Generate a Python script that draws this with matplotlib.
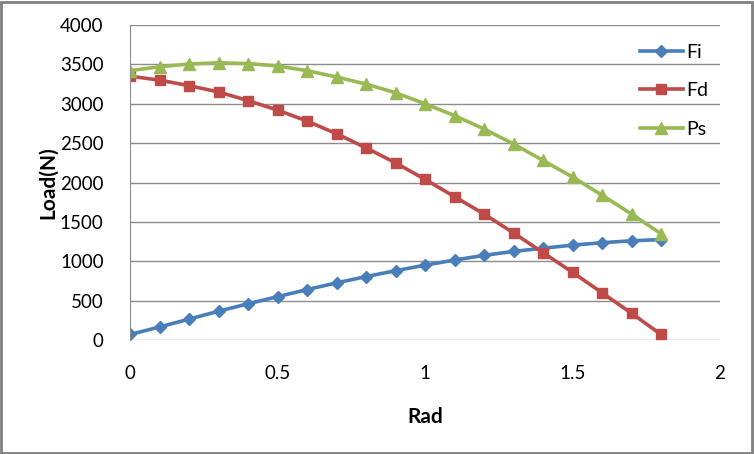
import matplotlib.pyplot as plt
from matplotlib.patches import Rectangle

rad = [0, 0.1, 0.2, 0.3, 0.4, 0.5, 0.6, 0.7, 0.8, 0.9,
       1.0, 1.1, 1.2, 1.3, 1.4, 1.5, 1.6, 1.7, 1.8]
fi = [70, 165, 265, 365, 460, 550, 640, 725, 805, 880,
      950, 1015, 1075, 1125, 1165, 1205, 1235, 1260, 1275]
fd = [3350, 3300, 3230, 3150, 3040, 2920, 2780, 2620, 2440, 2250,
      2040, 1820, 1600, 1360, 1110, 860, 600, 340, 70]
ps = [3420, 3470, 3505, 3520, 3510, 3480, 3420, 3340, 3250, 3140,
      3000, 2850, 2680, 2490, 2280, 2070, 1840, 1600, 1350]

plt.rcParams['font.family'] = ['Lato', 'DejaVu Sans']

W, H = 754, 454
fig = plt.figure(figsize=(W / 100, H / 100), dpi=100)
ax = fig.add_axes([130 / W, 1 - 340 / H, 590 / W, 315 / H])

ax.plot(rad, fi, color="#4A7EBB", lw=2.6, marker="D", ms=6, label="Fi")
ax.plot(rad, fd, color="#BE4B48", lw=2.6, marker="s", ms=7.5, label="Fd")
ax.plot(rad, ps, color="#98B954", lw=2.6, marker="^", ms=8, label="Ps")

ax.set_xlim(0, 2)
ax.set_ylim(0, 4000)
ax.set_xticks([0, 0.5, 1, 1.5, 2])
ax.set_xticklabels(["0", "0.5", "1", "1.5", "2"])
ax.set_yticks(range(0, 4001, 500))
ax.tick_params(length=0, labelsize=13.5, colors="black")
ax.tick_params(axis="x", pad=18)
ax.tick_params(axis="y", pad=19)
ax.grid(axis="y", color="#8C8C8C", lw=1)
ax.set_axisbelow(True)
for s in ["top", "right", "bottom"]:
    ax.spines[s].set_visible(False)
ax.spines["left"].set_color("#8C8C8C")

ax.set_xlabel("Rad", fontsize=15, fontweight="bold", labelpad=18)
ax.set_ylabel("Load(N)", fontsize=15, fontweight="bold", labelpad=1)

ax.legend(loc="upper left", bbox_to_anchor=(0.864, 0.94), frameon=False,
          fontsize=14, handlelength=2.2, labelspacing=1.1, handletextpad=0.2,
          borderpad=0, borderaxespad=0)

fig.patches.append(Rectangle((1 / W, 1 / H), 1 - 3 / W, 1 - 3 / H,
                             transform=fig.transFigure, fill=False,
                             edgecolor="#808080", lw=2))

fig.savefig("out.png", dpi=100)
